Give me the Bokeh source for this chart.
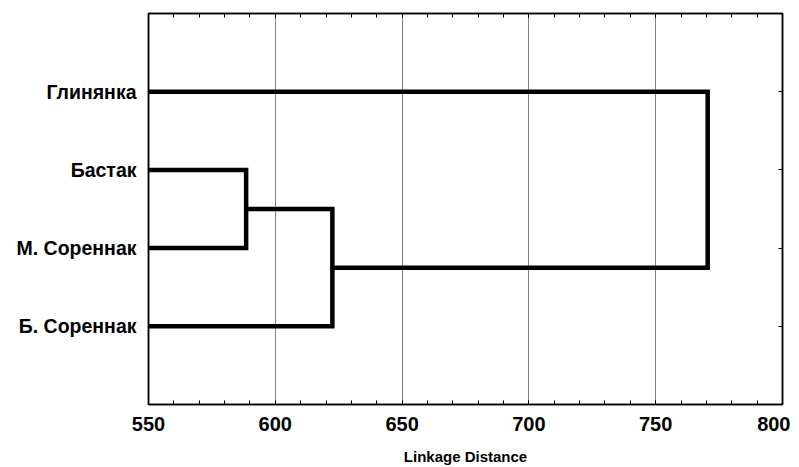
from bokeh.plotting import figure
from bokeh.models import LinearAxis, FixedTicker, Range1d
from bokeh.embed import file_html
from bokeh.resources import INLINE

# Leaves, top to bottom
leaves = ["Глинянка", "Бастак", "М. Сореннак", "Б. Сореннак"]
# Merges: (left cluster, right cluster, linkage distance); clusters indexed leaves 0..3, then new 4,5,...
merge_a = [1, 4, 0]
merge_b = [2, 3, 5]
merge_dist = [588.5, 622.5, 770.5]
x_start = 550
x_ticks = [550, 600, 650, 700, 750, 800]
x_minor = [v for v in range(550, 801, 10)]
axis_title = "Linkage Distance"

FONT = "Liberation Sans"

p = figure(width=790, height=467, output_backend="svg", toolbar_location=None,
           x_range=Range1d(550, 800), y_range=Range1d(5, 0),
           min_border_left=148, min_border_right=8, min_border_top=13, min_border_bottom=63)
p.background_fill_color = "white"
p.outline_line_color = "black"
p.outline_line_width = 1.5

# Build dendrogram segments from data
ypos = {i: i + 1 for i in range(len(leaves))}
xpos = {i: x_start for i in range(len(leaves))}
xs, ys = [], []
for k, (a, b, d) in enumerate(zip(merge_a, merge_b, merge_dist)):
    new = len(leaves) + k
    xs.append([xpos[a], d, d, xpos[b]])
    ys.append([ypos[a], ypos[a], ypos[b], ypos[b]])
    ypos[new] = (ypos[a] + ypos[b]) / 2
    xpos[new] = d
p.multi_line(xs, ys, line_color="black", line_width=4.5, line_join="miter")

# x axis (bottom)
xa = p.xaxis[0]
xa.ticker = FixedTicker(ticks=x_ticks, minor_ticks=x_minor)
xa.axis_label = axis_title
xa.axis_label_text_font = FONT
xa.axis_label_text_font_style = "bold"
xa.axis_label_text_font_size = "15px"
xa.axis_label_text_color = "black"
xa.axis_label_standoff = 14
xa.major_label_text_font = FONT
xa.major_label_text_font_style = "bold"
xa.major_label_text_font_size = "20px"
xa.major_label_text_color = "black"
xa.major_label_standoff = 12
xa.major_tick_out = 0
xa.major_tick_in = 4
xa.minor_tick_out = 0
xa.minor_tick_in = 4
xa.axis_line_width = 1.5
xa.major_tick_line_color = "black"
xa.minor_tick_line_color = "black"

# y axis (left) with leaf labels
ya = p.yaxis[0]
ya.ticker = FixedTicker(ticks=[1, 2, 3, 4])
ya.major_label_overrides = {i + 1: name for i, name in enumerate(leaves)}
ya.major_label_text_font = FONT
ya.major_label_text_font_style = "bold"
ya.major_label_text_font_size = "19.5px"
ya.major_label_text_color = "black"
ya.major_label_standoff = 12
ya.major_tick_out = 0
ya.major_tick_in = 0
ya.minor_tick_line_color = None
ya.axis_line_width = 1.5

# top axis (ticks only)
top = LinearAxis(ticker=FixedTicker(ticks=x_ticks, minor_ticks=x_minor),
                 major_label_text_color=None, major_label_text_font_size="1px",
                 major_tick_out=0, major_tick_in=4,
                 minor_tick_out=0, minor_tick_in=4, axis_line_width=1.5)
p.add_layout(top, "above")
# right axis (ticks only)
right = LinearAxis(ticker=FixedTicker(ticks=[1, 2, 3, 4]),
                   major_label_text_color=None, major_label_text_font_size="1px",
                   major_tick_out=0, major_tick_in=4,
                   minor_tick_line_color=None, axis_line_width=1.5)
p.add_layout(right, "right")

p.xgrid.ticker = FixedTicker(ticks=x_ticks)
p.xgrid.grid_line_color = "#808080"
p.xgrid.grid_line_width = 1
p.ygrid.grid_line_color = None

open("out.html", "w").write(file_html(p, INLINE))
